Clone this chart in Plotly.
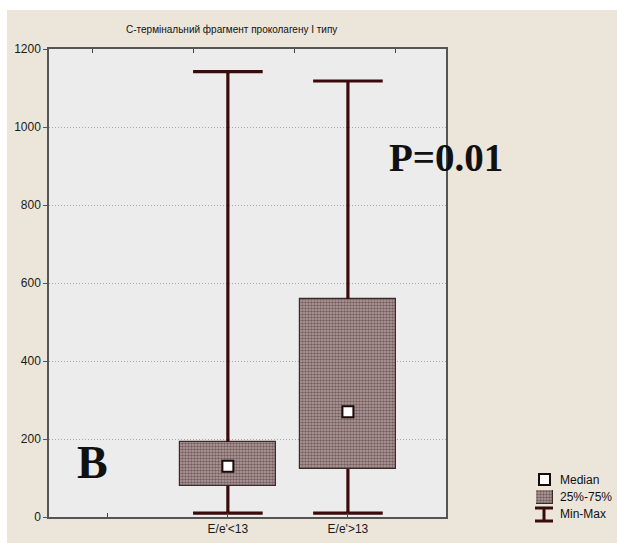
import plotly.graph_objects as go

# ---- data ----
categories = ["E/e'<13", "E/e'>13"]
cat_pos = [1, 2]
mins = [10, 10]
q1 = [80, 123]
medians = [130, 270]
q3 = [192, 559]
maxs = [1142, 1118]
yticks = [0, 200, 400, 600, 800, 1000, 1200]

title_text = "С-термінальний фрагмент проколагену І типу"
legend_labels = ["Median", "25%-75%", "Min-Max"]
FONT = "Liberation Sans, Arial, sans-serif"
SERIF = "Liberation Serif, Times New Roman, serif"
WHISK = "#3a0b0b"
BG = "#ebe5da"

W, H = 617, 543

def px(x):
    return x / W

def py(y):
    return 1 - y / H

BOX_MARKER = dict(color="#9a8686", line=dict(color="#3a2a2a", width=1.2),
                  pattern=dict(shape=".", fgcolor="#3a1c1c", bgcolor="#b6a4a4",
                               size=3, solidity=0.6))

fig = go.Figure()

# IQR boxes
fig.add_trace(go.Bar(
    x=cat_pos, y=[b - a for a, b in zip(q1, q3)], base=q1, width=0.8,
    marker=BOX_MARKER, showlegend=False, hoverinfo="skip"))

# whiskers (outside the box) + caps
cap = 0.29
wx, wy = [], []
for p, lo, a, b, hi in zip(cat_pos, mins, q1, q3, maxs):
    wx += [p, p, None, p, p, None, p - cap, p + cap, None, p - cap, p + cap, None]
    wy += [hi, b, None, a, lo, None, hi, hi, None, lo, lo, None]
fig.add_trace(go.Scatter(x=wx, y=wy, mode="lines", showlegend=False,
                         line=dict(color=WHISK, width=3.2), hoverinfo="skip"))

# medians
fig.add_trace(go.Scatter(x=cat_pos, y=medians, mode="markers", showlegend=False,
                         marker=dict(symbol="square", size=11, color="white",
                                     line=dict(color="#1a0a0a", width=2)),
                         hoverinfo="skip"))

# dummy trace for top axis ticks
fig.add_trace(go.Scatter(x=[None], y=[None], xaxis="x2", showlegend=False, hoverinfo="skip"))

# legend patch (patterned) on its own tiny axes
fig.add_trace(go.Bar(x=[0], y=[1], width=1, xaxis="x3", yaxis="y3",
                     marker=BOX_MARKER, showlegend=False, hoverinfo="skip"))

shapes = [
    # white scan border strips (top and left)
    dict(type="rect", xref="paper", yref="paper", layer="below",
         x0=0, x1=1, y0=py(10), y1=1, fillcolor="white", line=dict(width=0)),
    dict(type="rect", xref="paper", yref="paper", layer="below",
         x0=0, x1=px(7), y0=0, y1=1, fillcolor="white", line=dict(width=0)),
    # legend: median square
    dict(type="rect", xref="paper", yref="paper",
         x0=px(539), x1=px(550), y0=py(485), y1=py(474),
         fillcolor="white", line=dict(color="#1a0a0a", width=2)),
    # legend: min-max I-beam
    dict(type="line", xref="paper", yref="paper",
         x0=px(535), x1=px(553), y0=py(508), y1=py(508), line=dict(color=WHISK, width=3)),
    dict(type="line", xref="paper", yref="paper",
         x0=px(544), x1=px(544), y0=py(508), y1=py(521), line=dict(color=WHISK, width=3)),
    dict(type="line", xref="paper", yref="paper",
         x0=px(535), x1=px(553), y0=py(521), y1=py(521), line=dict(color=WHISK, width=3)),
]

def ann(text, x, y, size, family=FONT, xanchor="center"):
    return dict(text=text, xref="paper", yref="paper", x=px(x), y=py(y),
                xanchor=xanchor, yanchor="middle", showarrow=False,
                font=dict(family=family, size=size, color="#111"))

annotations = [
    ann(title_text, 231, 30, 10),
    ann("<b>В</b>", 92, 462, 46, SERIF),
    ann("<b>P=0.01</b>", 446, 158, 39, SERIF),
]
for lab, yy in zip(legend_labels, [480, 497, 514]):
    annotations.append(ann(lab, 558, yy, 12, xanchor="left"))

fig.update_layout(
    width=W, height=H,
    margin=dict(l=0, r=0, t=0, b=0, autoexpand=False),
    paper_bgcolor=BG,
    plot_bgcolor="#ececec",
    font=dict(family=FONT, size=12, color="#1a1a1a"),
    showlegend=False,
    bargap=0,
    xaxis=dict(domain=[px(49), px(446)], range=[-0.49, 2.817],
               tickvals=[0] + cat_pos, ticktext=[""] + categories,
               ticks="inside", ticklen=4, tickcolor="#444",
               showline=True, linecolor="#555", linewidth=1.5, mirror=True,
               showgrid=False, zeroline=False, tickfont=dict(size=12, family=FONT)),
    xaxis2=dict(overlaying="x", side="top", range=[-0.426, 3.505], tickvals=[0, 1, 2, 3],
                showticklabels=False, ticks="inside", ticklen=4, tickcolor="#444",
                showgrid=False, zeroline=False, showline=False),
    yaxis=dict(domain=[py(517), py(49)], range=[0, 1200], tickvals=yticks,
               ticks="outside", ticklen=4,
               tickcolor="#555", showline=True, linecolor="#555", linewidth=1.5,
               mirror=True, showgrid=True, gridcolor="#a9a9a9", griddash="1px,2px",
               gridwidth=1, zeroline=False, tickfont=dict(size=12, family=FONT)),
    xaxis3=dict(domain=[px(536), px(553)], range=[-0.5, 0.5], visible=False, fixedrange=True),
    yaxis3=dict(domain=[py(504), py(490)], range=[0, 1], visible=False, fixedrange=True,
                anchor="x3"),
    shapes=shapes,
    annotations=annotations,
)

fig.write_html("out.html", config={"displayModeBar": False},
               post_script="document.body.style.margin='0';document.body.style.overflow='hidden';")
